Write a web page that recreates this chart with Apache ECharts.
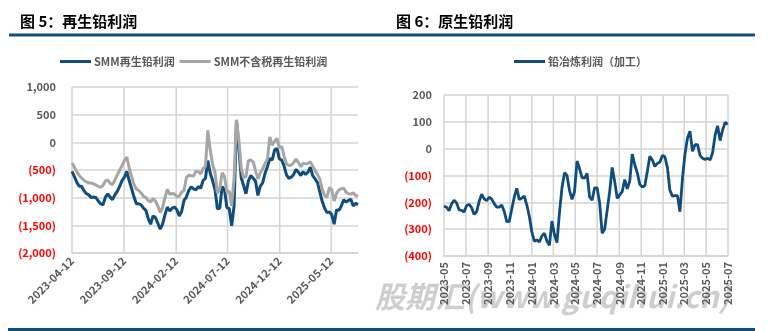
<!DOCTYPE html>
<html><head><meta charset="utf-8">
<script src="https://cdn.jsdelivr.net/npm/echarts@6/dist/echarts.min.js"></script>
<style>html,body{margin:0;padding:0;background:#fff}#c{width:775px;height:331px}</style>
</head><body><div id="c"></div>
<script>
// ---- Figure 5: recycled lead profit (weekly readings from 2023-04-12) ----
const leftTickLabels = ['2023-04-12','2023-09-12','2024-02-12','2024-07-12','2024-12-12','2025-05-12'];
const leftStartDate = '2023-04-12';
const leftEndDate = '2025-07-30';
const leftSeriesNames = ['SMM再生铅利润','SMM不含税再生铅利润'];
const smmProfit = [
-524,-620,-720,-795,-795,-875,-925,-950,-995,-990,
-995,-1060,-1110,-1130,-995,-930,-990,-1035,-950,-885,
-795,-690,-630,-524,-690,-835,-985,-1110,-1110,-1130,
-1190,-1230,-1380,-1480,-1330,-1360,-1460,-1570,-1480,-1310,
-1170,-1240,-1190,-1170,-1220,-1330,-1250,-1050,-990,-870,
-805,-840,-860,-800,-830,-690,-650,-330,-560,-690,
-855,-1200,-1190,-800,-860,-1180,-1200,-1510,-1150,400,
-100,-640,-780,-930,-700,-600,-650,-700,-960,-790,
-734,-560,-440,-290,-320,-140,-110,-300,-320,-430,
-590,-650,-630,-580,-490,-540,-600,-530,-580,-540,
-450,-600,-660,-730,-900,-1070,-1190,-1270,-1260,-1310,
-1480,-1220,-1230,-1150,-1040,-1080,-1050,-1030,-1150,-1100,-1125];
const smmProfitExTax = [
-373,-447,-530,-600,-644,-684,-715,-734,-734,-750,
-770,-795,-815,-780,-700,-680,-740,-765,-680,-590,
-505,-420,-330,-265,-460,-620,-760,-845,-870,-915,
-975,-1000,-1050,-1080,-1015,-1060,-1150,-1270,-1180,-1000,
-850,-940,-925,-935,-975,-975,-900,-870,-640,-590,
-605,-610,-520,-530,-570,-475,-430,217,-140,-400,
-545,-920,-840,-550,-620,-900,-880,-1150,-650,409,
50,-470,-640,-620,-330,-320,-350,-510,-660,-550,
-480,-380,-300,100,-50,20,70,-100,-75,-250,
-390,-420,-410,-370,-300,-370,-440,-380,-390,-380,
-350,-430,-510,-580,-665,-850,-960,-990,-820,-860,
-1060,-920,-860,-840,-830,-900,-930,-935,-915,-960,-975];
const leftYTicks = {min:-2000, max:1000, interval:500};

// ---- Figure 6: primary lead smelting profit (weekly readings from 2023-05-01) ----
const rightTickLabels = ['2023-05','2023-07','2023-09','2023-11','2024-01','2024-03','2024-05','2024-07','2024-09','2024-11','2025-01','2025-03','2025-05','2025-07'];
const rightStartDate = '2023-05-01';
const rightSeriesName = '铅冶炼利润（加工）';
const smeltProfit = [
-214,-218,-231,-206,-192,-202,-228,-230,-236,-212,
-208,-220,-245,-235,-197,-170,-187,-194,-181,-188,
-205,-218,-218,-210,-234,-272,-271,-225,-180,-148,
-190,-184,-177,-210,-253,-310,-345,-340,-348,-325,
-315,-345,-360,-270,-320,-350,-238,-146,-90,-100,
-155,-189,-160,-46,-74,-108,-110,-92,-180,-192,
-146,-146,-202,-315,-300,-230,-160,-70,-122,-185,
-172,-160,-115,-150,-121,-20,-60,-90,-133,-143,
-138,-85,-28,-42,-66,-55,-50,-25,-30,-70,
-155,-177,-175,-175,-235,-110,-21,40,65,-10,
15,15,-25,-36,-40,-36,-42,-15,50,85,
30,70,98,90];
const rightYTicks = {min:-400, max:200, interval:100};

const DAY = 864e5;
function toTime(s){const p=s.split('-').map(Number);return Date.UTC(p[0],p[1]-1,p[2]||1);}
function pad(n){return n<10?'0'+n:''+n;}
function fmtDay(v){const t=new Date(v);return t.getUTCFullYear()+'-'+pad(t.getUTCMonth()+1)+'-'+pad(t.getUTCDate());}
function fmtMonth(v){const t=new Date(v);return t.getUTCFullYear()+'-'+pad(t.getUTCMonth()+1);}
function fmtY(v){const a=Math.abs(v).toLocaleString('en-US');return v<0?'{r|('+a+')}':'{g|'+a+'}';}

const lStart = toTime(leftStartDate), rStart = toTime(rightStartDate);
const seriesL1 = smmProfit.map((v,i)=>[lStart+i*7*DAY, v]);
const seriesL2 = smmProfitExTax.map((v,i)=>[lStart+i*7*DAY, v]);
const seriesR = smeltProfit.map((v,i)=>[rStart+i*7*DAY, v]);
const leftTickVals = leftTickLabels.map(toTime);
const rightTickVals = rightTickLabels.map(toTime);

const FONT = '"Noto Sans CJK SC","Noto Sans",sans-serif';
const BLUE = '#0e4d7e', GRAY = '#a6a6a6', GRID = '#d4d4d4', TXT = '#595959';
const GW = 1.5;
const yRich = {r:{color:'#ff0000',fontWeight:'bold',fontSize:11,fontFamily:FONT}, g:{color:TXT,fontWeight:'bold',fontSize:11,fontFamily:FONT}};

function xAxisCfg(gi, min, max, ticks, fmt, rot){
  return {type:'value', gridIndex:gi, min:min, max:max, scale:true,
    axisLine:{show:true, onZero:false, lineStyle:{color:GRID, width:GW}},
    axisTick:{show:false, customValues:ticks},
    axisLabel:{customValues:ticks, formatter:fmt, rotate:rot, color:TXT, fontSize:11, fontWeight:'bold', fontFamily:FONT, margin:6, hideOverlap:false, showMinLabel:true, showMaxLabel:true},
    splitLine:{show:false}};
}
function yAxisCfg(gi, t, margin){
  return {type:'value', gridIndex:gi, min:t.min, max:t.max, interval:t.interval,
    axisLine:{show:false}, axisTick:{show:false},
    axisLabel:{formatter:fmtY, rich:yRich, margin:margin},
    splitLine:{show:true, lineStyle:{color:GRID, width:GW}}};
}
// vertical gridlines at the date ticks, positioned through the axis scales
function vGrid(xi, ticks, yt){
  return {type:'custom', xAxisIndex:xi, yAxisIndex:xi, z:1, silent:true, clip:false,
    data:ticks.map(t=>[t]),
    encode:{x:0},
    renderItem:function(params, api){
      const a = api.coord([api.value(0), yt.min]);
      const b = api.coord([api.value(0), yt.max]);
      return {type:'line', shape:{x1:a[0], y1:a[1], x2:a[0], y2:b[1]}, style:{stroke:GRID, lineWidth:GW}};
    }};
}

const option = {
  animation:false,
  textStyle:{fontFamily:FONT},
  grid:[{left:72, top:87, width:286, height:166},
        {left:444, top:95, width:284, height:161}],
  xAxis:[xAxisCfg(0, lStart, toTime(leftEndDate), leftTickVals, fmtDay, 45),
         xAxisCfg(1, toTime(rightTickLabels[0]), toTime(rightTickLabels[rightTickLabels.length-1]), rightTickVals, fmtMonth, 90)],
  yAxis:[yAxisCfg(0, leftYTicks, 16), yAxisCfg(1, rightYTicks, 12)],
  legend:[
    {left:55, top:51, icon:'rect', itemWidth:31, itemHeight:3, itemGap:5, data:leftSeriesNames,
     textStyle:{color:TXT, fontSize:11, fontWeight:'bold', fontFamily:FONT, padding:[0,0,0,-2]}},
    {left:509, top:51, icon:'rect', itemWidth:31, itemHeight:3, data:[rightSeriesName],
     textStyle:{color:TXT, fontSize:11, fontWeight:'bold', fontFamily:FONT, padding:[0,0,0,-2]}}
  ],
  series:[
    vGrid(0, leftTickVals, leftYTicks),
    vGrid(1, rightTickVals, rightYTicks),
    {name:leftSeriesNames[0], type:'line', xAxisIndex:0, yAxisIndex:0, data:seriesL1, showSymbol:false, symbol:'none', z:3,
     lineStyle:{color:BLUE, width:3}, itemStyle:{color:BLUE}},
    {name:leftSeriesNames[1], type:'line', xAxisIndex:0, yAxisIndex:0, data:seriesL2, showSymbol:false, symbol:'none', z:3,
     lineStyle:{color:GRAY, width:3}, itemStyle:{color:GRAY}},
    {name:rightSeriesName, type:'line', xAxisIndex:1, yAxisIndex:1, data:seriesR, showSymbol:false, symbol:'none', z:3,
     lineStyle:{color:BLUE, width:2.8}, itemStyle:{color:BLUE}}
  ],
  graphic:[
    {type:'text', left:20, top:14, z:10, style:{text:'图 5：再生铅利润', fill:'#000', font:'bold 15px '+FONT}},
    {type:'text', left:396, top:14, z:10, style:{text:'图 6：原生铅利润', fill:'#000', font:'bold 15px '+FONT}},
    {type:'rect', shape:{x:9, y:33.5, width:746, height:3}, style:{fill:BLUE}},
    {type:'rect', shape:{x:8, y:328, width:747, height:3}, style:{fill:BLUE}},
    {type:'text', left:375, top:282, z:-1, style:{text:'股期汇(www.guqihui.cn)', fill:'rgba(185,185,185,0.7)', font:'italic bold 30px '+FONT}}
  ]
};
const chart = echarts.init(document.getElementById('c'));
chart.setOption(option);
</script>
</body></html>
